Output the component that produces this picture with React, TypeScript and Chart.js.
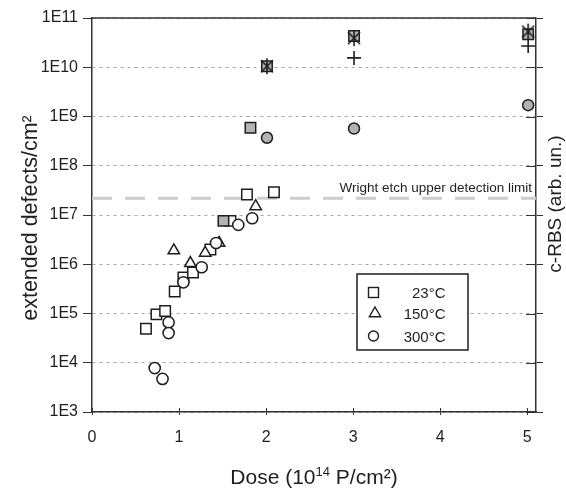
import React, { useEffect, useRef } from 'react';
import { Chart, registerables } from 'chart.js';

Chart.register(...registerables);

// ---- data ----
const xTickValues = [0, 1, 2, 3, 4, 5];
const yTickExponents = [3, 4, 5, 6, 7, 8, 9, 10, 11];

const dose23 = [0.62, 0.74, 0.84, 0.95, 1.05, 1.16, 1.36, 1.59, 1.78, 2.09];
const defects23 = [4.9e4, 9.6e4, 1.12e5, 2.8e5, 5.4e5, 6.8e5, 2.0e6, 7.6e6, 2.6e7, 2.9e7];

const dose150 = [0.94, 1.13, 1.3, 1.46, 1.88];
const defects150 = [1.9e6, 1.05e6, 1.7e6, 2.7e6, 1.5e7];

const dose300 = [0.72, 0.81, 0.88, 0.88, 1.05, 1.26, 1.425, 1.68, 1.84];
const defects300 = [7.8e3, 4.7e3, 6.6e4, 4.0e4, 4.3e5, 8.7e5, 2.7e6, 6.3e6, 8.6e6];

const doseRbsSquare = [1.51, 1.82, 2.01, 3.01, 5.01];
const rbsSquare = [7.6e6, 5.9e8, 1.05e10, 4.3e10, 4.7e10];

const doseRbsCircle = [2.01, 3.01, 5.01];
const rbsCircle = [3.7e8, 5.7e8, 1.7e9];

const doseRbsStar = [2.01, 3.01, 5.01];
const rbsStar = [1.05e10, 3.9e10, 5.3e10];

const doseRbsPlus = [3.01, 5.01];
const rbsPlus = [1.55e10, 2.7e10];

const limitDose = [0, 5.1];
const limitValue = [2.2e7, 2.2e7];

const legendLabels = ['23°C', '150°C', '300°C'];
const limitLabel = 'Wright etch upper detection limit';
const xTitleMain = 'Dose (10';
const xTitleSup = '14';
const xTitleEnd = ' P/cm²)';
const yTitle = 'extended defects/cm²';
const y2Title = 'c-RBS (arb. un.)';

const FONT = "'Liberation Sans', Arial, Helvetica, sans-serif";
const INK = '#1e1e1e';
const SHADE = '#b3b3b3';

const pts = (xs: number[], ys: number[]) => xs.map((x, i) => ({ x, y: ys[i] }));

function makeStar(): HTMLCanvasElement {
  const c = document.createElement('canvas');
  c.width = 18;
  c.height = 18;
  const g = c.getContext('2d')!;
  g.strokeStyle = INK;
  g.lineWidth = 1.6;
  g.beginPath();
  g.moveTo(3, 3); g.lineTo(15, 15);
  g.moveTo(15, 3); g.lineTo(3, 15);
  g.moveTo(9, 1); g.lineTo(9, 17);
  g.stroke();
  return c;
}

const decor = {
  id: 'decor',
  afterDraw(chart: any) {
    const { ctx, chartArea: a, scales } = chart;
    const ys = scales.y;
    const xs = scales.x;
    ctx.save();
    // top frame line
    ctx.strokeStyle = '#333';
    ctx.lineWidth = 1.5;
    ctx.beginPath();
    ctx.moveTo(a.left, a.top);
    ctx.lineTo(a.right, a.top);
    ctx.stroke();
    // inner parts of right-axis ticks
    ctx.lineWidth = 1;
    yTickExponents.forEach((e) => {
      const p = Math.round(ys.getPixelForValue(10 ** e)) + 0.5;
      ctx.beginPath();
      ctx.moveTo(a.right - 10, p);
      ctx.lineTo(a.right, p);
      ctx.stroke();
    });
    // inner parts of x-axis ticks
    xTickValues.forEach((v) => {
      const p = Math.round(xs.getPixelForValue(v)) + 0.5;
      ctx.beginPath();
      ctx.moveTo(p, a.bottom);
      ctx.lineTo(p, a.bottom - 4);
      ctx.stroke();
    });

    // detection-limit label
    ctx.fillStyle = INK;
    ctx.font = `13.5px ${FONT}`;
    ctx.textAlign = 'right';
    ctx.textBaseline = 'alphabetic';
    ctx.fillText(limitLabel, a.right - 4, ys.getPixelForValue(limitValue[0]) - 6);

    // left title
    ctx.save();
    ctx.font = `21.5px ${FONT}`;
    ctx.textAlign = 'center';
    ctx.translate(36.5, 218);
    ctx.rotate(-Math.PI / 2);
    ctx.fillText(yTitle, 0, 0);
    ctx.restore();

    // right title
    ctx.save();
    ctx.font = `19px ${FONT}`;
    ctx.textAlign = 'center';
    ctx.translate(561, 204);
    ctx.rotate(-Math.PI / 2);
    ctx.fillText(y2Title, 0, 0);
    ctx.restore();

    // bottom title with superscript
    ctx.textAlign = 'left';
    ctx.font = `21px ${FONT}`;
    const w1 = ctx.measureText(xTitleMain).width;
    const w3 = ctx.measureText(xTitleEnd).width;
    ctx.font = `13px ${FONT}`;
    const w2 = ctx.measureText(xTitleSup).width;
    const cx = (a.left + a.right) / 2;
    let x = cx - (w1 + w2 + w3) / 2;
    const base = 484;
    ctx.font = `21px ${FONT}`;
    ctx.fillText(xTitleMain, x, base);
    x += w1;
    ctx.font = `13px ${FONT}`;
    ctx.fillText(xTitleSup, x, base - 8);
    x += w2;
    ctx.font = `21px ${FONT}`;
    ctx.fillText(xTitleEnd, x, base);

    // legend box
    const bx = 357, by = 274, bw = 111, bh = 76;
    ctx.fillStyle = '#fff';
    ctx.fillRect(bx, by, bw, bh);
    ctx.strokeStyle = INK;
    ctx.lineWidth = 1.5;
    ctx.strokeRect(bx, by, bw, bh);
    const rowsY = [292.5, 313.5, 336];
    const sx = 373.5;
    ctx.lineWidth = 1.4;
    // square
    ctx.strokeRect(sx - 5, rowsY[0] - 5, 10, 10);
    // triangle
    ctx.beginPath();
    const r = 6.5;
    for (let k = 0; k < 3; k++) {
      const ang = k * (2 * Math.PI / 3);
      const px = sx + 1.5 + Math.sin(ang) * r;
      const py = rowsY[1] - Math.cos(ang) * r;
      if (k === 0) ctx.moveTo(px, py); else ctx.lineTo(px, py);
    }
    ctx.closePath();
    ctx.stroke();
    // circle
    ctx.beginPath();
    ctx.arc(sx, rowsY[2], 5, 0, Math.PI * 2);
    ctx.stroke();
    ctx.fillStyle = INK;
    ctx.font = `15px ${FONT}`;
    ctx.textAlign = 'right';
    legendLabels.forEach((t, i) => ctx.fillText(t, 445.5, rowsY[i] + 5.5));
    ctx.restore();
  },
};

export default function App() {
  const ref = useRef<HTMLCanvasElement>(null);

  useEffect(() => {
    const canvas = ref.current!;
    const star = makeStar();
    const tickFont = { family: FONT, size: 16 };
    const logTicks = (s: any) => {
      s.ticks = yTickExponents.map((e) => ({ value: 10 ** e }));
    };
    const chart = new Chart(canvas, {
      type: 'scatter',
      data: {
        datasets: [
          {
            label: 'c-RBS star',
            data: pts(doseRbsStar, rbsStar),
            yAxisID: 'y2',
            pointStyle: star as any,
            pointRadius: 9,
            order: 0,
          },
          {
            label: 'c-RBS plus',
            data: pts(doseRbsPlus, rbsPlus),
            yAxisID: 'y2',
            pointStyle: 'cross',
            pointRadius: 7,
            borderColor: INK,
            borderWidth: 1.6,
            order: 1,
          },
          {
            label: 'c-RBS 23°C',
            data: pts(doseRbsSquare, rbsSquare),
            yAxisID: 'y2',
            pointStyle: 'rect',
            pointRadius: 7.4,
            backgroundColor: SHADE,
            borderColor: INK,
            borderWidth: 1.5,
            order: 2,
          },
          {
            label: 'c-RBS 300°C',
            data: pts(doseRbsCircle, rbsCircle),
            yAxisID: 'y2',
            pointStyle: 'circle',
            pointRadius: 5.5,
            backgroundColor: SHADE,
            borderColor: INK,
            borderWidth: 1.5,
            order: 3,
          },
          {
            label: '300°C',
            data: pts(dose300, defects300),
            pointStyle: 'circle',
            pointRadius: 5.6,
            backgroundColor: '#fff',
            borderColor: INK,
            borderWidth: 1.5,
            order: 4,
          },
          {
            label: '150°C',
            data: pts(dose150, defects150),
            pointStyle: 'triangle',
            pointRadius: 6.6,
            backgroundColor: '#fff',
            borderColor: INK,
            borderWidth: 1.5,
            order: 5,
          },
          {
            label: '23°C',
            data: pts(dose23, defects23),
            pointStyle: 'rect',
            pointRadius: 7.4,
            backgroundColor: '#fff',
            borderColor: INK,
            borderWidth: 1.5,
            order: 6,
          },
          {
            type: 'line',
            label: 'limit',
            data: pts(limitDose, limitValue),
            borderColor: '#cdcdcd',
            borderWidth: 3,
            borderDash: [20, 13],
            pointRadius: 0,
            showLine: true,
            order: 7,
          } as any,
        ],
      },
      options: {
        animation: false,
        responsive: false,
        devicePixelRatio: 1,
        layout: { padding: { top: 18, left: 0, right: 0, bottom: 0 } },
        plugins: { legend: { display: false }, tooltip: { enabled: false } },
        scales: {
          x: {
            type: 'linear',
            min: 0,
            max: 5.1,
            afterBuildTicks: (s: any) => {
              s.ticks = xTickValues.map((v) => ({ value: v }));
            },
            afterFit: (s: any) => {
              s.height = 491 - 412;
            },
            grid: { drawOnChartArea: false, tickLength: 3, tickColor: '#333' },
            border: { color: '#333', width: 1.5 },
            ticks: {
              font: tickFont,
              color: INK,
              padding: 13,
              maxRotation: 0,
              autoSkip: false,
              callback: (v: any) => String(v),
            },
          },
          y: {
            type: 'logarithmic',
            position: 'left',
            min: 1e3,
            max: 1e11,
            afterBuildTicks: logTicks,
            afterFit: (s: any) => {
              s.width = 92;
            },
            grid: { color: '#a6a6a6', lineWidth: 1, tickLength: 9, tickColor: '#333' },
            border: { color: '#333', width: 1.5, dash: [3, 4] },
            ticks: {
              font: tickFont,
              color: INK,
              padding: 5,
              autoSkip: false,
              callback: (v: any) => '1E' + Math.round(Math.log10(Number(v))),
            },
          },
          y2: {
            type: 'logarithmic',
            position: 'right',
            min: 1e3,
            max: 1e11,
            afterBuildTicks: logTicks,
            afterFit: (s: any) => {
              s.width = 566 - 536;
            },
            grid: { drawOnChartArea: false, tickLength: 7, tickColor: '#333' },
            border: { color: '#333', width: 1.5 },
            ticks: { display: true, callback: () => '', autoSkip: false },
          },
        },
      },
      plugins: [decor],
    });
    return () => chart.destroy();
  }, []);

  return (
    <div style={{ position: 'absolute', left: 0, top: 0, width: 566, height: 491, background: '#fff' }}>
      <canvas ref={ref} width={566} height={491} style={{ display: 'block', width: 566, height: 491 }} />
    </div>
  );
}
